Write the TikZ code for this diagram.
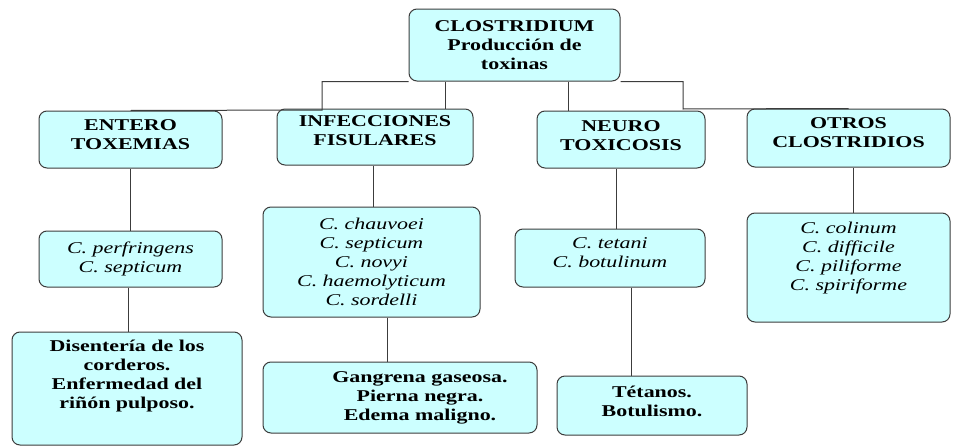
\documentclass[tikz,border=0pt]{standalone}
\usepackage{fontspec}
\setmainfont{Liberation Serif}[FakeStretch=1.33]
\usepackage{tikz}
\definecolor{boxfill}{RGB}{204,255,255}
\definecolor{boxline}{RGB}{60,60,60}

\begin{document}
\begin{tikzpicture}[x=1pt, y=-1pt,
		caja/.style={draw=boxline, line width=1pt, fill=boxfill, rounded corners=8pt,
			align=center, inner sep=0pt, font=\fontsize{16.5}{19}\selectfont},
		titulo/.style={caja, font=\fontsize{16.5}{19}\selectfont\bfseries},
		especie/.style={caja, font=\fontsize{16.5}{19}\selectfont\itshape},
		txtup/.style={text depth=#1},
		rama/.style={draw=boxline, line width=1pt}]
				\useasboundingbox (0,0) rectangle (953,447);
				
				\node[titulo, minimum width=211pt, minimum height=72pt] (root) at (514.5,45) {CLOSTRIDIUM\\ Producción de\\ toxinas};
				
				\node[titulo, minimum width=183pt, minimum height=57pt, txtup=9pt] (ent) at (130.5,139.5) {ENTERO\\ TOXEMIAS};
				\node[titulo, minimum width=196pt, minimum height=56pt, txtup=12pt] (inf) at (375,137) {INFECCIONES\\ FISULARES};
				\node[titulo, minimum width=168pt, minimum height=57pt, txtup=8pt] (neu) at (621,139.5) {NEURO\\ TOXICOSIS};
				\node[titulo, minimum width=203pt, minimum height=58pt, txtup=10pt] (otr) at (848.5,138) {OTROS\\ CLOSTRIDIOS};
				
				\node[especie, minimum width=183pt, minimum height=56pt] (perf) at (130.5,259) {C. perfringens\\ C. septicum};
				\node[especie, minimum width=217pt, minimum height=110pt] (chau) at (371.5,262) {C. chauvoei\\ C. septicum\\ C. novyi\\ C. haemolyticum\\ C. sordelli};
				\node[especie, minimum width=190pt, minimum height=58pt, txtup=10pt] (teta) at (610,258) {C. tetani\\ C. botulinum};
				\node[especie, minimum width=203pt, minimum height=109pt, txtup=23pt] (coli) at (848.5,267.5) {C. colinum\\ C. difficile\\ C. piliforme\\ C. spiriforme};
				
				\node[titulo, minimum width=230pt, minimum height=113pt, txtup=28pt] (dis) at (127,388.5) {Disentería de los\\ corderos.\\ Enfermedad del\\ riñón pulposo.};
				\node[titulo, minimum width=274pt, minimum height=71pt] (gan) at (400,397.5) {\begin{tabular}{@{\hspace{40pt}}c@{}}Gangrena gaseosa.\\ Pierna negra.\\ Edema maligno.\end{tabular}};
				\node[titulo, minimum width=190pt, minimum height=59pt, txtup=9pt] (tet) at (652,405.5) {Tétanos.\\ Botulismo.};
				
				\coordinate (kl) at (322,110);
				\coordinate (kr) at (683,109);
				
				\draw[rama] (root.south west) -| (kl) -- (ent.north);
				\draw[rama] (root.south -| 445,0) -- (inf.north -| 445,0);
				\draw[rama] (root.south -| 568,0) -- (neu.north -| 568,0);
				\draw[rama] (root.south east) -| (kr) -- (otr.north);
				
				\draw[rama] (ent.south -| 130,0) -- (perf.north -| 130,0);
				\draw[rama] (inf.south -| 373,0) -- (chau.north -| 373,0);
				\draw[rama] (neu.south -| 616,0) -- (teta.north -| 616,0);
				\draw[rama] (otr.south -| 853,0) -- (coli.north -| 853,0);
				
				\draw[rama] (perf.south -| 128,0) -- (dis.north -| 128,0);
				\draw[rama] (chau.south -| 387,0) -- (gan.north -| 387,0);
				\draw[rama] (teta.south -| 631,0) -- (tet.north -| 631,0);
			\end{tikzpicture}
\end{document}
